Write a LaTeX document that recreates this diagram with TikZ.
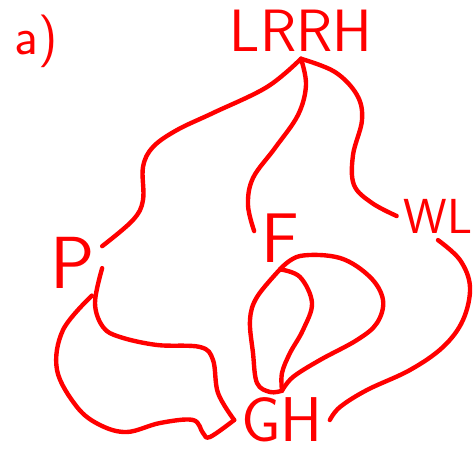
\documentclass[tikz,border=0pt]{standalone}
\usepackage{fontspec}
\usetikzlibrary{positioning}

\tikzset{
  word/.style={text=red, inner sep=0pt, outer sep=4pt,
    font=\sffamily\fontsize{#1}{#1}\selectfont},
  link/.style={red, line width=2.5pt, line cap=round, line join=round},
}

\begin{document}
\begin{tikzpicture}[x=0.02cm, y=-0.02cm]
  \useasboundingbox (0,0) rectangle (474,453);
  % names
  \node[word=30pt] (tag)  at (36,41)   {a)};
  \node[word=34pt] (lrrh) at (301,31)  {LRRH};
  \node[word=42pt] (p)    at (73,263)  {P};
  \node[word=40pt] (f)    at (280,238) {F};
  \node[word=28pt] (wl)   at (438,216) {WL};
  \node[word=36pt] (gh)   at (282,420) {GH};
  % from LRRH
  \draw[link] plot[smooth, tension=0.6] coordinates {(lrrh.south) (267,87) (213,113) (177,130) (153,147) (143,167) (143,200) (133,220) (p.30)};
  \draw[link] plot[smooth, tension=0.6] coordinates {(lrrh.south) (306,85) (298,115) (275,148) (253,178) (248,205) (f.165)};
  \draw[link] plot[smooth, tension=0.6] coordinates {(lrrh.south) (335,72) (357,95) (362,120) (353,155) (354,185) (372,203) (wl.west)};
  % from P
  \draw[link] plot[smooth, tension=0.6] coordinates {(p.-10) (95,303) (103,327) (120,337) (157,345) (200,347) (213,360) (218,393) (gh.west)};
  \draw[link] plot[smooth, tension=0.6] coordinates {(p.-60) (63,330) (57,370) (77,407) (100,425) (127,432) (160,423) (193,420) (203,433) (210,437) (gh.west)};
  % from F
  \draw[link] plot[smooth, tension=0.6] coordinates {(f.south) (257,297) (250,320) (253,353) (257,383) (270,392) (gh.north)};
  \draw[link] plot[smooth, tension=0.6] coordinates {(f.south) (300,277) (312,303) (303,330) (290,353) (282,373) (gh.north)};
  \draw[link] plot[smooth, tension=0.6] coordinates {(f.south) (300,256) (340,258) (370,277) (383,300) (377,323) (357,340) (320,360) (293,377) (gh.north)};
  % from WL
  \draw[link] plot[smooth, tension=0.6] coordinates {(wl.south) (460,260) (470,287) (463,320) (443,347) (410,370) (367,390) (340,407) (gh.east)};
\end{tikzpicture}
\end{document}
